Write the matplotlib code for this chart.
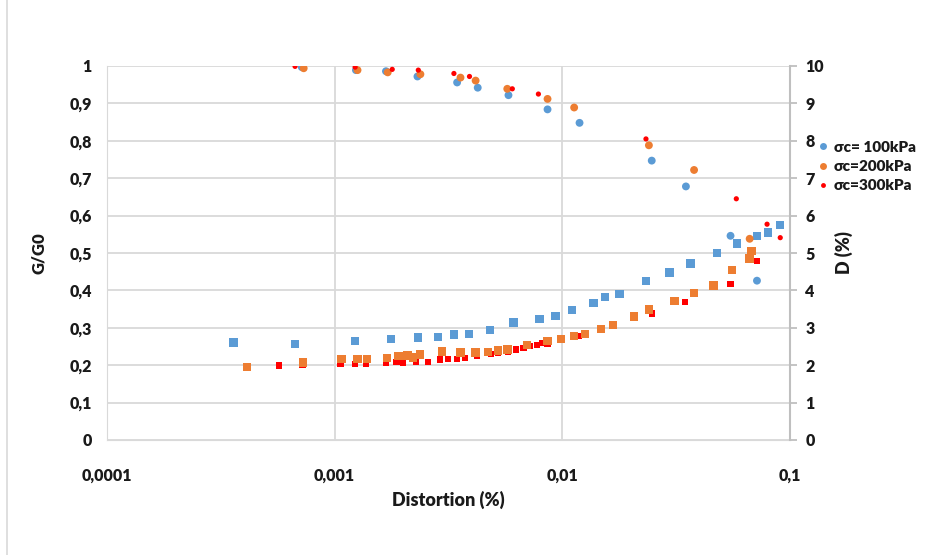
import numpy as np
import matplotlib
matplotlib.use("Agg")
import matplotlib.pyplot as plt
from matplotlib.lines import Line2D
from matplotlib.ticker import FuncFormatter, FixedLocator

plt.rcParams['font.family'] = ['Lato', 'DejaVu Sans']
plt.rcParams['font.weight'] = 'bold'

# ---------------------
# Data: G/G0 (left axis)
# ---------------------
strain_g_100 = [0.000717, 0.00124, 0.00168, 0.00231, 0.00345, 0.00425, 0.00580,
                0.00861, 0.0119, 0.0247, 0.0349, 0.0548, 0.0716]
g_100 = [0.997, 0.989, 0.986, 0.972, 0.956, 0.942, 0.922,
         0.884, 0.848, 0.747, 0.678, 0.546, 0.426]

strain_g_200 = [0.000731, 0.00126, 0.00171, 0.00238, 0.00357, 0.00416, 0.00573,
                0.00861, 0.01127, 0.0240, 0.0379, 0.0665]
g_200 = [0.994, 0.989, 0.983, 0.978, 0.969, 0.961, 0.939,
         0.912, 0.889, 0.788, 0.722, 0.538]

strain_g_300 = [0.00067, 0.00123, 0.00179, 0.00233, 0.00334, 0.00391, 0.00603,
                0.00785, 0.0233, 0.0581, 0.0793, 0.0906]
g_300 = [0.999, 0.997, 0.991, 0.989, 0.980, 0.972, 0.939,
         0.925, 0.805, 0.645, 0.577, 0.541]

# ---------------------
# Data: damping D (right axis)
# ---------------------
strain_d_100 = [0.000359, 0.000670, 0.00123, 0.00177, 0.00233, 0.00284, 0.00334,
                0.00390, 0.00481, 0.00611, 0.00793, 0.00933, 0.0110, 0.0137,
                0.0154, 0.0178, 0.0233, 0.0296, 0.0365, 0.0477, 0.0586, 0.0716,
                0.0800, 0.0906]
d_100 = [2.61, 2.57, 2.65, 2.70, 2.74, 2.76, 2.82,
         2.84, 2.95, 3.14, 3.24, 3.32, 3.47, 3.66,
         3.82, 3.90, 4.26, 4.48, 4.72, 5.00, 5.25, 5.45,
         5.55, 5.74]

strain_d_200 = [0.000412, 0.000728, 0.00107, 0.00126, 0.00139, 0.00170, 0.00191,
                0.00209, 0.00221, 0.00237, 0.00296, 0.00357, 0.00416, 0.00470,
                0.00522, 0.00575, 0.00700, 0.00861, 0.00984, 0.01127, 0.01259,
                0.0148, 0.0167, 0.0206, 0.0240, 0.0311, 0.0379, 0.0461, 0.0556,
                0.0665, 0.0677]
d_200 = [1.96, 2.07, 2.17, 2.17, 2.17, 2.20, 2.24,
         2.26, 2.21, 2.29, 2.37, 2.34, 2.34, 2.36,
         2.39, 2.42, 2.54, 2.65, 2.70, 2.78, 2.83,
         2.97, 3.08, 3.30, 3.49, 3.72, 3.93, 4.13, 4.54,
         4.85, 5.06]

strain_d_300 = [0.000569, 0.000722, 0.00106, 0.00123, 0.00137, 0.00168, 0.00187,
                0.00200, 0.00227, 0.00258, 0.00290, 0.00315, 0.00345, 0.00375,
                0.00423, 0.00485, 0.00522, 0.00575, 0.00625, 0.00675, 0.0072,
                0.00777, 0.00817, 0.00861, 0.0118, 0.0247, 0.0345, 0.0548, 0.0716]
d_300 = [1.99, 2.00, 2.04, 2.04, 2.04, 2.07, 2.09,
         2.07, 2.09, 2.09, 2.15, 2.17, 2.17, 2.20,
         2.26, 2.29, 2.33, 2.36, 2.42, 2.45, 2.51,
         2.54, 2.59, 2.58, 2.78, 3.38, 3.69, 4.18, 4.79]

labels = ["σc= 100kPa", "σc=200kPa", "σc=300kPa"]
x_ticks = [0.0001, 0.001, 0.01, 0.1]

BLUE = "#5b9bd5"
ORANGE = "#ed7d31"
RED = "#ff0000"
GRID = "#d9d9d9"
TXT = "#1a1a1a"
W = 800


def comma(v, pos=None):
    s = f"{v:g}" if v >= 0.001 or v == 0 else f"{v:.4f}"
    return s.replace(".", ",")


fig = plt.figure(figsize=(9.39, 5.55), dpi=100)
ax = fig.add_axes([107 / 939, 1 - 440 / 555, (790 - 107) / 939, (440 - 66) / 555])
ax2 = ax.twinx()

ax.set_xscale("log")
ax.set_xlim(0.0001, 0.1)
ax.set_ylim(0, 1)
ax2.set_ylim(0, 10)

# damping (squares) first, then G/G0 circles scaled onto the D axis
ax2.scatter(strain_d_100, d_100, marker="s", s=36, color=BLUE, edgecolors="none", zorder=3)
ax2.scatter(strain_d_300, d_300, marker="s", s=20, color=RED, edgecolors="none", zorder=3)
ax2.scatter(strain_d_200, d_200, marker="s", s=36, color=ORANGE, edgecolors="none", zorder=3)

ax2.scatter(strain_g_100, np.array(g_100) * 10, marker="o", s=32,
            color=BLUE, edgecolors="none", zorder=4)
ax2.scatter(strain_g_200, np.array(g_200) * 10, marker="o", s=32,
            color=ORANGE, edgecolors="none", zorder=4)
ax2.scatter(strain_g_300, np.array(g_300) * 10, marker="o", s=14,
            color=RED, edgecolors="none", zorder=5)

# grid and axes styling
ax.xaxis.set_major_locator(FixedLocator(x_ticks))
ax.xaxis.set_minor_locator(FixedLocator([]))
ax.xaxis.set_major_formatter(FuncFormatter(comma))
ax.set_yticks(np.arange(0, 1.01, 0.1))
ax.yaxis.set_major_formatter(FuncFormatter(lambda v, p: comma(round(v, 1))))
ax2.set_yticks(np.arange(0, 11, 1))
ax2.yaxis.set_major_formatter(FuncFormatter(lambda v, p: f"{int(round(v))}"))

ax.grid(True, which="major", color=GRID, linewidth=1.3)
ax.set_axisbelow(True)
for a in (ax, ax2):
    a.spines["top"].set_visible(False)
    a.spines["left"].set_color(GRID)
    a.spines["bottom"].set_color(GRID)
    a.spines["right"].set_color("#bfbfbf")
    a.spines["right"].set_linewidth(1.5)
ax.spines["right"].set_visible(False)
ax2.spines["left"].set_visible(False)
ax2.spines["bottom"].set_visible(False)

ax.tick_params(axis="both", length=0, labelsize=11.5, labelcolor=TXT, pad=11)
ax.tick_params(axis="x", pad=20)
ax2.tick_params(axis="y", length=5, width=1.3, color="#bfbfbf", direction="out",
                labelsize=11.5, labelcolor=TXT, pad=6)
for lab in ax.get_xticklabels() + ax.get_yticklabels() + ax2.get_yticklabels():
    lab.set_fontweight(W)

ax.set_xlabel("Distortion (%)", fontsize=13, fontweight=W, color=TXT, labelpad=5)
ax.set_ylabel("G/G0", fontsize=12, fontweight=W, color=TXT, labelpad=16)
ax2.set_ylabel("D (%)", fontsize=13, fontweight=W, color=TXT, labelpad=8)

handles = [
    Line2D([], [], marker="o", linestyle="none", markersize=5, color=BLUE, markeredgewidth=0),
    Line2D([], [], marker="o", linestyle="none", markersize=5, color=ORANGE, markeredgewidth=0),
    Line2D([], [], marker="o", linestyle="none", markersize=3.5, color=RED, markeredgewidth=0),
]
fig.legend(handles, labels, loc="upper left", bbox_to_anchor=(800 / 939, 1 - 127 / 555),
           frameon=False, handletextpad=0.1, handlelength=1.2, labelspacing=0.4,
           prop={"size": 11, "weight": W}, labelcolor=TXT)

# thin frame line along the left edge of the figure
fig.add_artist(Line2D([7 / 939, 7 / 939], [0, 1], color=GRID, linewidth=1.2))

fig.savefig("out.png", dpi=100)
